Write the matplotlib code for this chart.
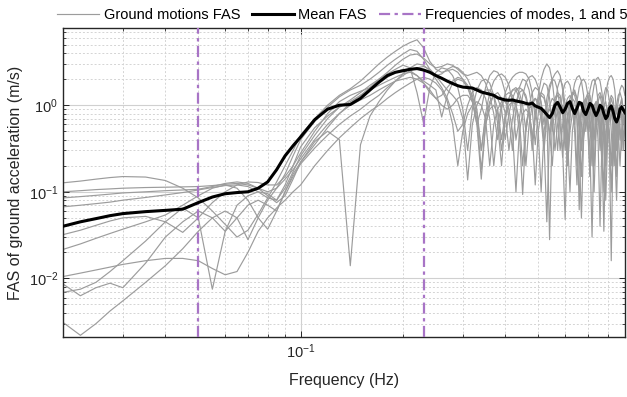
import matplotlib
matplotlib.use("Agg")
import matplotlib.pyplot as plt
from matplotlib.ticker import LogLocator, NullFormatter, FixedLocator, LogFormatterSciNotation

plt.rcParams['font.family'] = ['Liberation Sans', 'DejaVu Sans']
plt.rcParams['mathtext.fontset'] = 'custom'
plt.rcParams['mathtext.rm'] = 'Liberation Sans'

# ---------------- data ----------------
freq = [0.020, 0.0225, 0.025, 0.0275, 0.030, 0.035, 0.040, 0.045, 0.050, 0.055,
        0.060, 0.065, 0.070, 0.075, 0.080, 0.085, 0.090, 0.095, 0.10,
        0.11, 0.12, 0.13, 0.14, 0.15, 0.16, 0.17, 0.18, 0.19, 0.20,
        0.21, 0.22, 0.23, 0.24, 0.25, 0.26, 0.27, 0.28, 0.29, 0.30,
        0.31, 0.32, 0.33, 0.34, 0.35, 0.36, 0.37, 0.38, 0.39, 0.40,
        0.41, 0.42, 0.43, 0.44, 0.45, 0.46, 0.47, 0.48, 0.49, 0.50,
        0.51, 0.52, 0.53, 0.54, 0.55, 0.56, 0.57, 0.58, 0.59, 0.60,
        0.61, 0.62, 0.63, 0.64, 0.65, 0.66, 0.67, 0.68, 0.69, 0.70,
        0.71, 0.72, 0.73, 0.74, 0.75, 0.76, 0.77, 0.78, 0.79, 0.80,
        0.81, 0.82, 0.83, 0.84, 0.85, 0.86, 0.87, 0.88, 0.89, 0.90]

gm1 = [0.127, 0.133, 0.140, 0.146, 0.150, 0.148, 0.135, 0.110, 0.085, 0.060,
       0.042, 0.030, 0.036, 0.055, 0.085, 0.13, 0.20, 0.30, 0.45,
       0.7, 1.0, 1.3, 1.55, 1.9, 2.4, 3.0, 3.6, 4.2, 4.8,
       5.3, 5.7, 4.6, 3.2, 2.6, 2.4, 2.5, 2.6, 2.4, 2.0,
       1.6, 1.1, 0.6, 0.9, 1.6, 2.2, 2.5, 2.4, 2.0, 1.4,
       0.7, 0.3, 0.9, 1.6, 2.0, 1.9, 1.5, 0.9, 0.35, 0.8,
       1.4, 1.8, 1.7, 1.2, 0.5, 0.9, 1.6, 2.0, 1.7, 1.0,
       0.3, 0.8, 1.3, 1.5, 1.2, 0.6, 0.15, 0.5, 1.0, 1.3,
       1.1, 0.6, 0.2, 0.6, 1.1, 1.3, 1.0, 0.4, 0.08, 0.4,
       0.9, 1.2, 1.0, 0.5, 0.15, 0.6, 1.0, 1.2, 0.9, 0.5]

gm2 = [0.100, 0.103, 0.106, 0.108, 0.110, 0.112, 0.113, 0.114, 0.115, 0.118,
       0.122, 0.125, 0.12, 0.11, 0.10, 0.11, 0.16, 0.26, 0.40,
       0.65, 0.95, 1.25, 1.5, 1.7, 2.0, 2.4, 2.9, 3.4, 3.9,
       4.4, 4.2, 3.4, 2.6, 2.2, 2.3, 2.6, 2.8, 2.7, 2.4,
       2.0, 1.5, 0.9, 0.3, 0.8, 1.4, 1.9, 2.2, 2.3, 2.1,
       1.7, 1.1, 0.4, 0.7, 1.3, 1.8, 2.1, 2.2, 2.0, 1.6,
       1.0, 0.35, 0.9, 1.5, 2.0, 2.3, 2.5, 2.2, 1.5, 0.7,
       0.2, 0.7, 1.3, 1.8, 2.1, 2.2, 1.9, 1.3, 0.5, 0.9,
       1.5, 1.9, 2.0, 1.7, 1.1, 0.4, 0.8, 1.3, 1.6, 1.5,
       1.1, 0.5, 0.2, 0.6, 1.0, 1.3, 1.4, 1.2, 0.8, 0.5]

gm3 = [0.085, 0.088, 0.091, 0.094, 0.097, 0.100, 0.103, 0.105, 0.107, 0.115,
       0.125, 0.13, 0.125, 0.11, 0.09, 0.075, 0.09, 0.14, 0.22,
       0.38, 0.50, 0.40, 0.014, 0.35, 0.75, 1.1, 1.5, 1.9, 2.3,
       2.7, 3.0, 2.9, 2.5, 2.0, 1.6, 1.2, 0.8, 0.5, 0.6,
       1.0, 1.4, 1.6, 1.5, 1.2, 0.7, 0.2, 0.6, 1.0, 1.3,
       1.4, 1.3, 1.0, 0.5, 0.093, 0.5, 0.9, 1.1, 1.2, 1.0,
       0.7, 0.3, 0.7, 1.0, 1.2, 1.1, 0.8, 0.3, 0.6, 1.0,
       1.2, 1.3, 1.1, 0.7, 0.2, 0.5, 0.9, 1.1, 1.0, 0.6,
       0.15, 0.5, 0.9, 1.1, 1.0, 0.7, 0.3, 0.035, 0.4, 0.8,
       1.0, 0.9, 0.6, 0.25, 0.6, 0.9, 1.0, 0.8, 0.4, 0.7]

gm4 = [0.067, 0.070, 0.073, 0.076, 0.080, 0.086, 0.092, 0.098, 0.105, 0.112,
       0.118, 0.12, 0.115, 0.10, 0.085, 0.08, 0.11, 0.17, 0.26,
       0.45, 0.7, 0.95, 1.15, 1.4, 1.7, 2.0, 2.3, 2.6, 2.9,
       2.7, 1.4, 0.62, 1.6, 2.4, 2.7, 2.6, 2.2, 1.6, 0.9,
       0.3, 0.9, 1.5, 1.9, 2.0, 1.8, 1.3, 0.6, 0.2, 0.7,
       1.2, 1.5, 1.5, 1.2, 0.7, 0.2, 0.6, 1.0, 1.2, 1.1,
       0.8, 0.4, 0.045, 0.5, 0.9, 1.1, 1.0, 0.6, 0.25, 0.7,
       1.0, 1.1, 0.9, 0.5, 0.12, 0.5, 0.9, 1.1, 0.9, 0.5,
       0.15, 0.6, 1.0, 1.1, 0.8, 0.3, 0.6, 1.0, 1.1, 0.8,
       0.3, 0.016, 0.4, 0.8, 1.0, 0.9, 0.6, 0.3, 0.7, 0.9]

gm5 = [0.032, 0.036, 0.041, 0.046, 0.050, 0.052, 0.045, 0.034, 0.05, 0.075,
       0.10, 0.12, 0.13, 0.128, 0.12, 0.12, 0.15, 0.20, 0.28,
       0.5, 0.8, 1.1, 1.3, 1.45, 1.6, 1.8, 2.1, 2.4, 2.6,
       2.5, 2.2, 1.9, 1.7, 1.5, 0.73, 1.3, 1.8, 2.0, 1.9,
       1.6, 1.2, 0.6, 0.14, 0.6, 1.0, 1.3, 1.4, 1.2, 0.8,
       0.3, 0.7, 1.1, 1.4, 1.5, 1.3, 0.9, 0.4, 0.8, 1.2,
       1.4, 1.3, 0.9, 0.028, 0.7, 1.1, 1.3, 1.2, 0.8, 0.3,
       0.7, 1.0, 1.2, 1.1, 0.7, 0.062, 0.6, 1.0, 1.2, 1.0,
       0.6, 0.2, 0.7, 1.0, 1.1, 0.9, 0.5, 0.1, 0.5, 0.9,
       1.1, 1.0, 0.6, 0.2, 0.5, 0.8, 0.9, 0.7, 0.3, 0.6]

gm6 = [0.0216, 0.025, 0.029, 0.033, 0.037, 0.045, 0.054, 0.07, 0.09, 0.11,
       0.12, 0.11, 0.08, 0.05, 0.037, 0.06, 0.10, 0.15, 0.21,
       0.32, 0.45, 0.6, 0.75, 0.9, 1.1, 1.3, 1.6, 1.9, 2.2,
       2.5, 2.7, 2.8, 2.6, 2.2, 1.8, 1.5, 1.3, 1.1, 0.7,
       0.137, 0.6, 1.0, 1.3, 1.5, 1.5, 1.3, 0.9, 0.4, 0.8,
       1.2, 1.5, 1.6, 1.4, 1.0, 0.5, 1.0, 1.4, 1.6, 1.5,
       1.1, 0.6, 1.2, 1.7, 2.0, 1.9, 1.5, 0.9, 0.3, 0.048,
       0.5, 1.0, 1.3, 1.4, 1.2, 0.8, 0.3, 0.8, 1.2, 1.4,
       1.3, 0.9, 0.4, 0.9, 1.3, 1.4, 1.2, 0.7, 0.2, 0.7,
       1.1, 1.3, 1.2, 0.8, 0.3, 0.7, 1.0, 1.1, 0.9, 0.6]

gm7 = [0.0105, 0.0115, 0.0125, 0.0135, 0.0145, 0.016, 0.017, 0.017, 0.016, 0.013,
       0.011, 0.012, 0.020, 0.035, 0.05, 0.065, 0.08, 0.10, 0.12,
       0.2, 0.3, 0.42, 0.55, 0.7, 0.85, 1.0, 1.2, 1.4, 1.6,
       1.8, 2.0, 2.1, 2.0, 1.8, 1.5, 1.1, 0.6, 0.2, 0.5,
       0.8, 1.0, 1.1, 1.0, 0.7, 0.2, 0.6, 0.9, 1.1, 1.1,
       0.9, 0.5, 0.1, 0.5, 0.8, 0.9, 0.8, 0.5, 0.12, 0.5,
       0.8, 0.9, 0.8, 0.5, 0.2, 0.6, 0.9, 1.0, 0.9, 0.6,
       0.2, 0.5, 0.8, 0.9, 0.7, 0.3, 0.05, 0.4, 0.7, 0.8,
       0.7, 0.4, 0.1, 0.5, 0.8, 0.9, 0.8, 0.5, 0.2, 0.5,
       0.7, 0.8, 0.6, 0.3, 0.08, 0.4, 0.7, 0.8, 0.7, 0.5]

gm8 = [0.0086, 0.0063, 0.0078, 0.0088, 0.0078, 0.015, 0.030, 0.045, 0.06, 0.05,
       0.035, 0.05, 0.07, 0.08, 0.07, 0.06, 0.10, 0.16, 0.22,
       0.35, 0.55, 0.8, 1.05, 1.3, 1.6, 2.0, 2.4, 2.9, 3.4,
       3.8, 3.9, 3.5, 3.0, 2.7, 2.8, 3.0, 2.9, 2.6, 2.3,
       2.2, 2.3, 2.4, 2.2, 1.8, 1.3, 0.8, 0.4, 0.9, 1.4,
       1.8, 2.1, 2.3, 2.4, 2.4, 2.3, 2.0, 1.4, 0.7, 1.3,
       2.0, 2.6, 3.0, 2.7, 1.9, 1.0, 0.3, 0.8, 1.4, 1.8,
       1.9, 1.7, 1.2, 0.6, 1.1, 1.6, 1.9, 2.0, 1.8, 1.3,
       0.7, 1.2, 1.7, 2.0, 2.1, 1.9, 1.4, 0.8, 1.3, 1.8,
       2.1, 2.2, 2.0, 1.5, 0.8, 1.1, 1.5, 1.7, 1.6, 1.3]

gm9 = [0.0069, 0.0075, 0.009, 0.012, 0.016, 0.027, 0.045, 0.065, 0.05, 0.0075,
       0.035, 0.07, 0.09, 0.10, 0.095, 0.08, 0.12, 0.20, 0.33,
       0.55, 0.75, 0.95, 1.1, 1.3, 1.5, 1.7, 1.9, 2.1, 2.3,
       2.4, 2.2, 1.8, 1.4, 1.2, 1.3, 1.6, 1.9, 2.1, 2.0,
       1.7, 1.3, 0.8, 0.3, 0.7, 1.1, 1.3, 1.2, 0.9, 0.4,
       0.8, 1.2, 1.5, 1.6, 1.5, 1.2, 0.8, 0.3, 0.7, 1.1,
       1.3, 1.2, 0.9, 0.4, 0.8, 1.2, 1.4, 1.3, 0.9, 0.4,
       0.8, 1.2, 1.4, 1.3, 1.0, 0.5, 0.8, 1.1, 1.2, 0.9,
       0.5, 0.8, 1.0, 0.8, 0.4, 0.04, 0.4, 0.7, 0.9, 0.8,
       0.5, 0.2, 0.6, 0.9, 1.0, 0.8, 0.4, 0.5, 0.8, 0.9]

gm10 = [0.0031, 0.0022, 0.0030, 0.0042, 0.0055, 0.009, 0.014, 0.022, 0.035, 0.05,
        0.06, 0.05, 0.028, 0.05, 0.08, 0.11, 0.14, 0.18, 0.24,
        0.4, 0.6, 0.8, 1.0, 1.15, 1.3, 1.5, 1.7, 1.9, 2.0,
        2.1, 2.0, 1.8, 1.5, 1.2, 1.0, 0.9, 1.0, 1.2, 1.3,
        1.3, 1.1, 0.7, 0.18, 0.6, 0.9, 1.0, 0.8, 0.3, 0.7,
        1.0, 1.1, 1.0, 0.7, 0.2, 0.6, 0.9, 1.0, 0.9, 0.5,
        0.1, 0.5, 0.8, 0.9, 0.7, 0.3, 0.6, 0.9, 1.0, 0.8,
        0.4, 0.1, 0.5, 0.8, 0.9, 0.7, 0.3, 0.6, 0.8, 0.7,
        0.3, 0.03, 0.4, 0.7, 0.8, 0.6, 0.2, 0.5, 0.7, 0.7,
        0.4, 0.1, 0.4, 0.6, 0.7, 0.5, 0.2, 0.5, 0.7, 0.6]

mean_fas = [0.040, 0.045, 0.049, 0.053, 0.056, 0.059, 0.061, 0.063, 0.075, 0.087,
            0.095, 0.098, 0.100, 0.11, 0.13, 0.18, 0.26, 0.34, 0.43,
            0.68, 0.90, 1.00, 1.02, 1.20, 1.50, 1.85, 2.2, 2.4, 2.5,
            2.6, 2.65, 2.55, 2.4, 2.2, 2.05, 1.9, 1.78, 1.68, 1.62,
            1.60, 1.58, 1.50, 1.42, 1.38, 1.34, 1.30, 1.22, 1.18, 1.15,
            1.14, 1.15, 1.12, 1.10, 1.08, 1.05, 1.03, 1.06, 0.98, 0.95,
            0.92, 0.85, 0.78, 0.72, 0.80, 1.00, 1.08, 0.95, 0.82, 0.90,
            1.05, 1.10, 0.92, 0.80, 0.92, 1.08, 1.05, 0.85, 0.78, 0.90,
            1.05, 1.00, 0.85, 0.76, 0.85, 1.00, 0.95, 0.80, 0.70, 0.75,
            0.92, 0.98, 0.85, 0.70, 0.64, 0.72, 0.90, 0.95, 0.88, 0.82]

ground_motions = [gm1, gm2, gm3, gm4, gm5, gm6, gm7, gm8, gm9, gm10]
mode_freqs = [0.05, 0.23]

legend_labels = ['Ground motions FAS', 'Mean FAS', 'Frequencies of modes, 1 and 5']

# ---------------- plot ----------------
fig = plt.figure(figsize=(6.27, 3.97), dpi=100)
ax = fig.add_axes([0.1005, 0.151, 0.8963, 0.7785])

gray = '#9c9c9c'
for i, g in enumerate(ground_motions):
    ax.plot(freq, g, color=gray, lw=0.85, label=legend_labels[0] if i == 0 else None, zorder=2)
ax.plot(freq, mean_fas, color='black', lw=2.2, label=legend_labels[1], zorder=4)
purple = '#a874c6'
for i, mf in enumerate(mode_freqs):
    ax.axvline(mf, color=purple, lw=1.6, ls=(0, (5, 2, 1.5, 2)),
               label=legend_labels[2] if i == 0 else None, zorder=3)

ax.set_xscale('log')
ax.set_yscale('log')
ax.set_xlim(0.02, 0.9)
ax.set_ylim(0.0021, 7.8)

ax.xaxis.set_major_locator(FixedLocator([0.1]))
ax.yaxis.set_major_locator(FixedLocator([0.01, 0.1, 1.0]))
ax.xaxis.set_major_formatter(LogFormatterSciNotation())
ax.yaxis.set_major_formatter(LogFormatterSciNotation())
ax.xaxis.set_minor_locator(LogLocator(base=10, subs=range(2, 10), numticks=20))
ax.yaxis.set_minor_locator(LogLocator(base=10, subs=range(2, 10), numticks=20))
ax.xaxis.set_minor_formatter(NullFormatter())
ax.yaxis.set_minor_formatter(NullFormatter())

ax.grid(which='major', color='#d0d0d0', lw=0.8, ls='-', zorder=0)
ax.grid(which='minor', color='#d4d4d4', lw=0.7, ls=(0, (2, 2)), zorder=0)
ax.set_axisbelow(True)

ax.tick_params(which='both', direction='in', top=True, right=True, labelsize=10.5, colors='#262626')
ax.tick_params(which='major', length=4, width=0.7)
ax.tick_params(which='minor', length=2.5, width=0.6)
for s in ax.spines.values():
    s.set_color('#262626')
    s.set_linewidth(1.0)

ax.set_xlabel('Frequency (Hz)', fontsize=11.5, color='#262626', labelpad=9)
ax.set_ylabel('FAS of ground acceleration (m/s)', fontsize=11.5, color='#262626', labelpad=4)

fig.legend(loc='center', bbox_to_anchor=(0.546, 0.963), ncol=3, frameon=False,
           fontsize=10.5, handlelength=2.9, columnspacing=0.8, handletextpad=0.3,
           borderaxespad=0, borderpad=0)

fig.savefig('out.png', dpi=100)
